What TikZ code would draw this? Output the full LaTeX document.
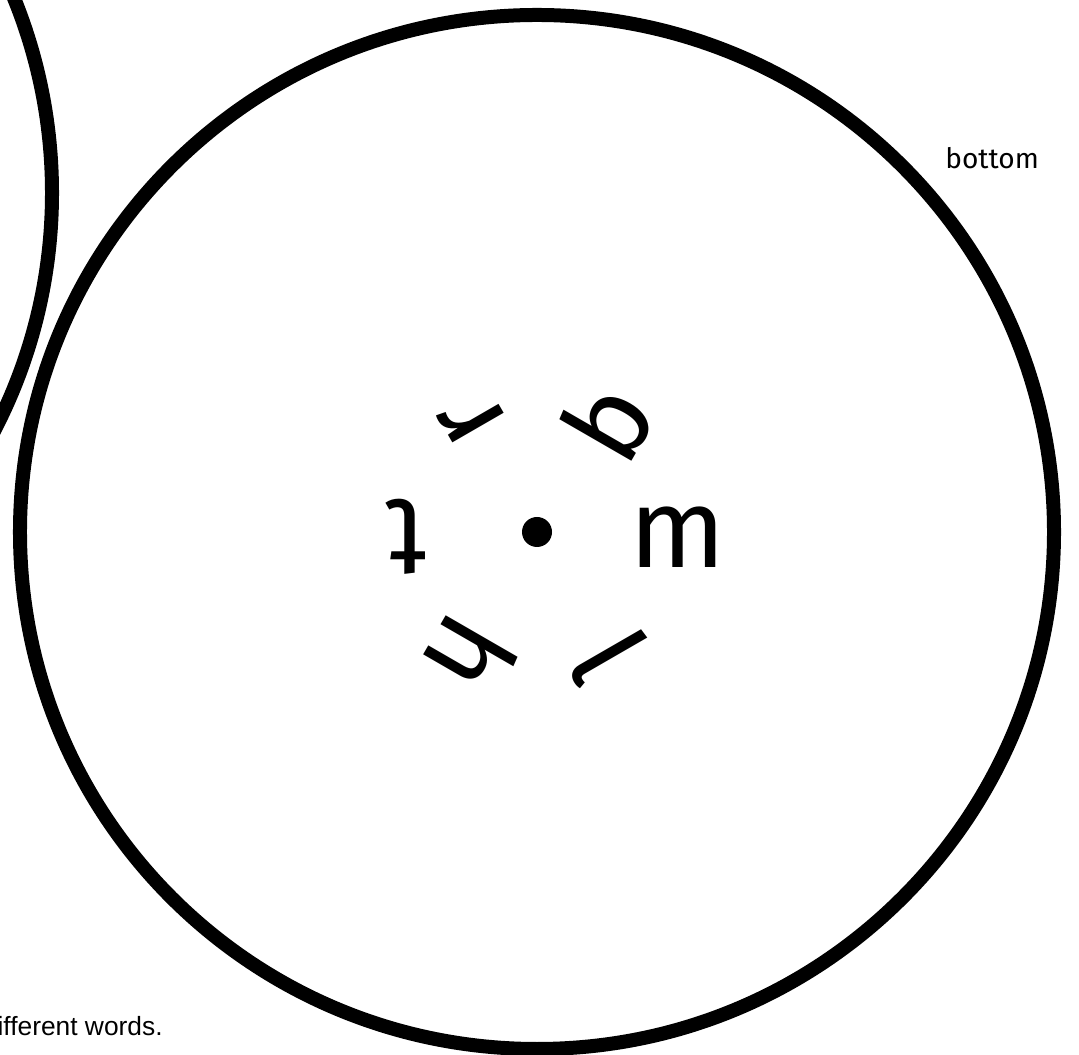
\documentclass[tikz,border=0pt]{standalone}
\usepackage{fontspec}
\setmainfont{Fira Sans}
\newfontfamily\notefont{Liberation Sans}
\usetikzlibrary{calc}
\tikzset{
  wheel/.style={circle,draw=black,line width=2.8mm,minimum size=206.8mm,inner sep=0pt},
  hub/.style={circle,fill=black,minimum size=6mm,inner sep=0pt},
  letter/.style={inner sep=0pt,font=\fontsize{64}{70}\selectfont},
  tag/.style={inner sep=0pt,font=\fontsize{16}{19}\selectfont},
  note/.style={inner sep=0pt,font=\notefont\fontsize{15}{18}\selectfont}
}

\begin{document}
\begin{tikzpicture}[x=0.2mm,y=0.2mm]
\useasboundingbox (0,0) rectangle (1079,1055);
\clip (0,0) rectangle (1079,1055);
\node[wheel] (rim) at (-465,862) {};
\node[wheel] (wheel) at (537,523) {};
\node[hub] (hub) at (537,523) {};
% ring of letters, a little below the hub
\coordinate (ring) at (540,518);
\node[letter,rotate=0] (lm) at ($(ring)+(0:138)$) {m};
\node[letter,rotate=60] (lb) at ($(ring)+(60:134)$) {b};
\node[letter,rotate=120] (lr) at ($(ring)+(120:136)$) {r};
\node[letter,rotate=180] (lt) at ($(ring)+(180:134)$) {t};
\node[letter,rotate=240] (lh) at ($(ring)+(240:138)$) {h};
\node[letter,rotate=300] (ll) at ($(ring)+(300:138)$) {l};
\node[tag,anchor=base west] (bottom) at (945,886) {bottom};
\node[note,anchor=base east] (words) at (163,19) {different words.};
\end{tikzpicture}
\end{document}
